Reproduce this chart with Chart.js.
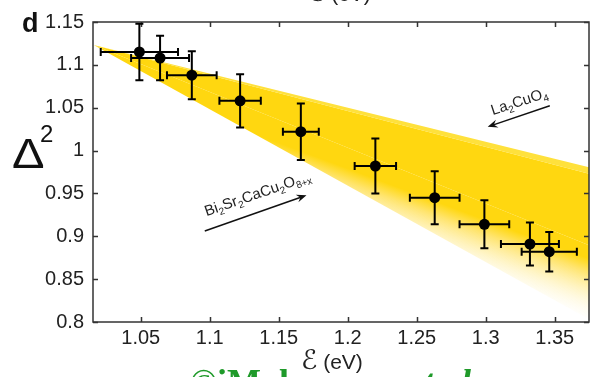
<!DOCTYPE html>
<html>
<head>
<meta charset="utf-8">
<script src="https://cdn.jsdelivr.net/npm/chart.js@4.4.1/dist/chart.umd.min.js"></script>
<style>
    html, body { margin: 0; padding: 0; background: #fff; }
    #wrap { width: 593px; height: 377px; }
</style>
</head>
<body>
<div id="wrap"><canvas id="delta_chart" width="593" height="377"></canvas></div>
<script>
// Measured points: energy (eV) against Delta^2, with error bars both ways
var energy = [1.049, 1.064, 1.087, 1.122, 1.166, 1.220, 1.263, 1.299, 1.332, 1.346];
var energyErr = [0.028, 0.021, 0.018, 0.015, 0.013, 0.015, 0.018, 0.018, 0.021, 0.020];
var deltaSq = [1.115, 1.108, 1.088, 1.058, 1.022, 0.982, 0.945, 0.914, 0.891, 0.882];
var deltaSqErr = [0.033, 0.026, 0.028, 0.031, 0.033, 0.032, 0.031, 0.028, 0.025, 0.023];

// Shaded wedge between the two compounds, apex on the left
var bandX = [1.0159, 1.375];
var bandUpper = [1.1231, 0.9806];
var bandUpperInner = [1.1231, 0.9730];
var bandMiddle = [1.1231, 0.8895];
var bandLower = [1.1231, 0.8030];

var xTicks = [1.05, 1.1, 1.15, 1.2, 1.25, 1.3, 1.35];
var yTicks = [0.8, 0.85, 0.9, 0.95, 1, 1.05, 1.1, 1.15];

var GOLD = '#FFD710';
var LIGHT_GOLD = '#FFE13C';
var TEXT = '#222222';
var SANS = "'Liberation Sans', Arial, 'DejaVu Sans', sans-serif";

function bandLine(ys) {
    var out = [];
    for (var i = 0; i < bandX.length; i++) {
        out.push({x: bandX[i], y: ys[i]});
    }
    return out;
}

function pointData() {
    var out = [];
    for (var i = 0; i < energy.length; i++) {
        out.push({x: energy[i], y: deltaSq[i]});
    }
    return out;
}

// Lower part of the wedge fades to white towards the bottom right
function fadeFill(context) {
    var chart = context.chart;
    var area = chart.chartArea;
    if (!area) return GOLD;
    var g = chart.ctx.createLinearGradient(area.left - 100, area.top - 3, area.left - 128, area.top + 72);
    g.addColorStop(0, GOLD);
    g.addColorStop(0.2, GOLD);
    g.addColorStop(0.36, '#FFE46C');
    g.addColorStop(1, 'rgba(255,255,255,0)');
    return g;
}

function bandDataset(ys, fill, color) {
    return {
        type: 'line',
        data: bandLine(ys),
        borderWidth: 0,
        borderColor: 'rgba(0,0,0,0)',
        pointRadius: 0,
        fill: fill,
        backgroundColor: color
    };
}

// Error bars drawn through the scales
var errorBars = {
    id: 'errorBars',
    afterDatasetsDraw: function (chart) {
        var c = chart.ctx, xs = chart.scales.x, ys = chart.scales.y;
        var cap = 4;
        c.save();
        c.strokeStyle = '#000';
        c.lineWidth = 2;
        for (var i = 0; i < energy.length; i++) {
            var px = xs.getPixelForValue(energy[i]);
            var py = ys.getPixelForValue(deltaSq[i]);
            var x0 = xs.getPixelForValue(energy[i] - energyErr[i]);
            var x1 = xs.getPixelForValue(energy[i] + energyErr[i]);
            var y0 = ys.getPixelForValue(deltaSq[i] + deltaSqErr[i]);
            var y1 = ys.getPixelForValue(deltaSq[i] - deltaSqErr[i]);
            c.beginPath();
            c.moveTo(x0, py); c.lineTo(x1, py);
            c.moveTo(x0, py - cap); c.lineTo(x0, py + cap);
            c.moveTo(x1, py - cap); c.lineTo(x1, py + cap);
            c.moveTo(px, y0); c.lineTo(px, y1);
            c.moveTo(px - cap, y0); c.lineTo(px + cap, y0);
            c.moveTo(px - cap, y1); c.lineTo(px + cap, y1);
            c.stroke();
            c.beginPath();
            c.arc(px, py, 5.5, 0, Math.PI * 2);
            c.fillStyle = '#000';
            c.fill();
        }
        c.restore();
    }
};

// Box frame with ticks pointing inward on all four sides
var frame = {
    id: 'frame',
    afterDatasetsDraw: function (chart) {
        var c = chart.ctx, a = chart.chartArea, xs = chart.scales.x, ys = chart.scales.y;
        var len = 5;
        c.save();
        c.strokeStyle = '#333';
        c.lineWidth = 1.5;
        c.strokeRect(a.left, a.top, a.right - a.left, a.bottom - a.top);
        c.beginPath();
        xTicks.forEach(function (v) {
            var px = Math.round(xs.getPixelForValue(v)) + 0.5;
            c.moveTo(px, a.bottom); c.lineTo(px, a.bottom - len);
            c.moveTo(px, a.top); c.lineTo(px, a.top + len);
        });
        yTicks.forEach(function (v) {
            var py = Math.round(ys.getPixelForValue(v)) + 0.5;
            c.moveTo(a.left, py); c.lineTo(a.left + len, py);
            c.moveTo(a.right, py); c.lineTo(a.right - len, py);
        });
        c.stroke();
        c.restore();
    }
};

function drawFormula(c, parts, x, y, angle) {
    c.save();
    c.translate(x, y);
    c.rotate(angle);
    c.fillStyle = TEXT;
    c.textBaseline = 'alphabetic';
    var cx = 0;
    parts.forEach(function (p) {
        c.font = p[1] ? '10px ' + SANS : '15px ' + SANS;
        c.fillText(p[0], cx, p[1] ? 3.5 : 0);
        cx += c.measureText(p[0]).width;
    });
    c.restore();
}

function drawArrow(c, x0, y0, x1, y1) {
    var ang = Math.atan2(y1 - y0, x1 - x0);
    var head = 10, half = 4;
    c.save();
    c.strokeStyle = '#111';
    c.fillStyle = '#111';
    c.lineWidth = 1.5;
    c.beginPath();
    c.moveTo(x0, y0);
    c.lineTo(x1 - Math.cos(ang) * head * 0.6, y1 - Math.sin(ang) * head * 0.6);
    c.stroke();
    c.beginPath();
    c.moveTo(x1, y1);
    c.lineTo(x1 - Math.cos(ang) * head + Math.sin(ang) * half, y1 - Math.sin(ang) * head - Math.cos(ang) * half);
    c.lineTo(x1 - Math.cos(ang) * head * 0.65, y1 - Math.sin(ang) * head * 0.65);
    c.lineTo(x1 - Math.cos(ang) * head - Math.sin(ang) * half, y1 - Math.sin(ang) * head + Math.cos(ang) * half);
    c.closePath();
    c.fill();
    c.restore();
}

// x title: script E drawn larger, its glyph runs small in the fallback face
function drawEnergyTitle(c, x, y) {
    c.font = "italic 27px 'DejaVu Sans', 'Noto Sans', sans-serif";
    c.fillText('\u2130', x, y);
    var w = c.measureText('\u2130').width;
    c.font = '21px ' + SANS;
    c.fillText(' (eV)', x + w, y);
}

// Panel letter, axis titles, compound labels and arrows
var labels = {
    id: 'labels',
    afterDraw: function (chart) {
        var c = chart.ctx, xs = chart.scales.x, ys = chart.scales.y;
        c.save();
        c.textBaseline = 'alphabetic';

        c.font = 'bold 27px ' + SANS;
        c.fillStyle = '#111';
        c.fillText('d', 22, 32);

        // Delta squared
        c.save();
        c.translate(12, 168);
        c.scale(1.16, 1);
        c.font = '42px ' + SANS;
        c.fillText('\u0394', 0, 0);
        c.restore();
        c.font = '24px ' + SANS;
        c.fillText('2', 40, 142);

        c.fillStyle = TEXT;
        drawEnergyTitle(c, 301, 369);
        // title of the panel above, cut by the top edge
        drawEnergyTitle(c, 309, 1);

        drawArrow(c, xs.getPixelForValue(1.0964), ys.getPixelForValue(0.9062),
            xs.getPixelForValue(1.1701), ys.getPixelForValue(0.9479));
        drawFormula(c, [['Bi', 0], ['2', 1], ['Sr', 0], ['2', 1], ['CaCu', 0], ['2', 1], ['O', 0], ['8+x', 1]],
            xs.getPixelForValue(1.0976), ys.getPixelForValue(0.9234), -19 * Math.PI / 180);

        drawArrow(c, xs.getPixelForValue(1.3464), ys.getPixelForValue(1.0522),
            xs.getPixelForValue(1.3014), ys.getPixelForValue(1.0277));
        drawFormula(c, [['La', 0], ['2', 1], ['CuO', 0], ['4', 1]],
            xs.getPixelForValue(1.3051), ys.getPixelForValue(1.0413), -18 * Math.PI / 180);

        // watermark line running off the bottom edge
        c.fillStyle = '#1f9a2a';
        c.font = "bold 36px 'Liberation Serif', serif";
        c.fillText('\u00a9iMolar mesa ', 190, 394);
        c.font = "bold italic 36px 'Liberation Serif', serif";
        c.fillText('et al.', 408, 394);
        c.restore();
    }
};

var ctx = document.getElementById('delta_chart').getContext('2d');
var chart = new Chart(ctx, {
    type: 'line',
    data: {
        datasets: [
            {
                type: 'line',
                data: pointData(),
                showLine: false,
                pointRadius: 0,
                borderWidth: 0,
                fill: false
            },
            bandDataset(bandUpper, '+1', LIGHT_GOLD),
            bandDataset(bandUpperInner, '+1', GOLD),
            bandDataset(bandMiddle, '+1', fadeFill),
            bandDataset(bandLower, false, 'rgba(0,0,0,0)')
        ]
    },
    options: {
        responsive: false,
        animation: false,
        events: [],
        layout: {padding: {top: 22, right: 4, left: 0, bottom: 0}},
        plugins: {
            legend: {display: false},
            tooltip: {enabled: false},
            filler: {drawTime: 'beforeDatasetsDraw'}
        },
        scales: {
            x: {
                type: 'linear',
                min: 1.0154,
                max: 1.3748,
                grid: {display: false},
                border: {display: false},
                afterBuildTicks: function (scale) {
                    scale.ticks = xTicks.map(function (v) { return {value: v}; });
                },
                afterFit: function (scale) { scale.height = 55; },
                ticks: {
                    color: TEXT,
                    padding: -4,
                    maxRotation: 0,
                    autoSkip: false,
                    font: {family: SANS, size: 20},
                    callback: function (v) { return String(Math.round(v * 100) / 100); }
                }
            },
            y: {
                type: 'linear',
                min: 0.8,
                max: 1.15,
                grid: {display: false},
                border: {display: false},
                afterBuildTicks: function (scale) {
                    scale.ticks = yTicks.map(function (v) { return {value: v}; });
                },
                afterFit: function (scale) { scale.width = 93; },
                ticks: {
                    color: TEXT,
                    padding: 1,
                    autoSkip: false,
                    font: {family: SANS, size: 20},
                    callback: function (v) { return String(Math.round(v * 100) / 100); }
                }
            }
        }
    },
    plugins: [frame, errorBars, labels]
});
</script>
</body>
</html>
